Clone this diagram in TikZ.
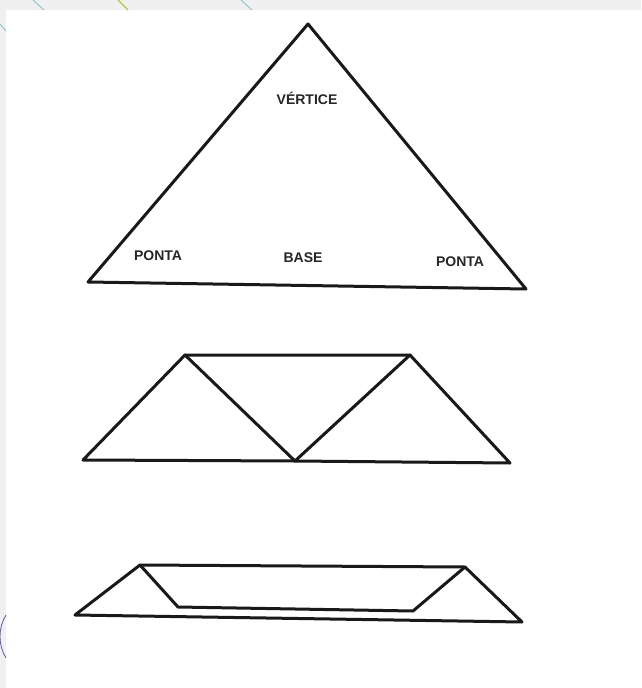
\documentclass[tikz,border=0pt]{standalone}
\usepackage{fontspec}
\setmainfont{Liberation Sans}
\begin{document}
\begin{tikzpicture}[x=1pt,y=-1pt,
  outline/.style={draw=black!90,line width=3pt,line join=round,line cap=round},
  lbl/.style={font=\bfseries\fontsize{14}{16}\selectfont,text=black!85,inner sep=0pt},
  deco/.style={line width=0.8pt}]
\useasboundingbox (0,0) rectangle (641,688);
% page background
\fill[black!6] (0,0) rectangle (641,688);
\fill[white] (6,10) rectangle (641,688);
% faint decorative curves in the margin
\draw[deco,color=teal!50] (0,24) -- (6,31);
\draw[deco,color=teal!50] (33,0) -- (44,10);
\draw[deco,color=lime!50!olive] (118,0) -- (128,10);
\draw[deco,color=teal!50] (241,0) -- (252,10);
\draw[deco,color=blue!30!gray] (6,615) .. controls (-2,628) and (-2,645) .. (6,658);
% top triangle
\coordinate (A) at (308,24);
\coordinate (B) at (88,282);
\coordinate (C) at (526,289);
\draw[outline] (A) -- (B) -- (C) -- cycle;
\node[lbl] (vert) at (307,98) {VÉRTICE};
\node[lbl] (pl) at (158,256) {PONTA};
\node[lbl] (base) at (303,258) {BASE};
\node[lbl] (pr) at (460,262) {PONTA};
% middle trapezoid
\coordinate (m1) at (185,355);
\coordinate (m2) at (410,355);
\coordinate (m3) at (510,463);
\coordinate (m4) at (295,461);
\coordinate (m5) at (83,460);
\draw[outline] (m1) -- (m2) -- (m3) -- (m4) -- (m5) -- cycle;
\draw[outline] (m1) -- (m4) -- (m2);
% bottom flat shape
\coordinate (b1) at (140,565);
\coordinate (b2) at (465,567);
\coordinate (b3) at (522,622);
\coordinate (b4) at (75,615);
\coordinate (b5) at (178,607);
\coordinate (b6) at (413,611);
\draw[outline] (b1) -- (b2) -- (b3) -- (b4) -- cycle;
\draw[outline] (b1) -- (b5) -- (b6) -- (b2);
\end{tikzpicture}
\end{document}
